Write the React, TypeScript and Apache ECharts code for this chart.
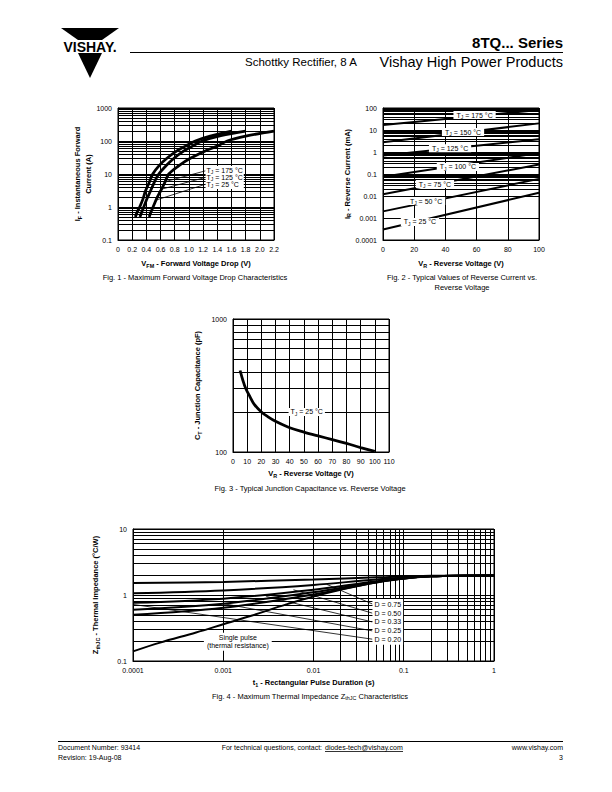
import React, { useEffect, useRef } from 'react';
import * as echarts from 'echarts';

const F = '"Liberation Sans", Arial, Helvetica, sans-serif';

// ---------- Fig. 1 : forward voltage drop (V, A) ----------
const fig1T175 = [[0.245, 0.5], [0.27, 0.7], [0.306, 1], [0.35, 1.7], [0.386, 3], [0.44, 5.5], [0.49, 10], [0.58, 18], [0.69, 30], [0.83, 50], [0.95, 70], [1.09, 100], [1.3, 140], [1.6, 200]];
const fig1T125 = [[0.31, 0.5], [0.335, 0.7], [0.363, 1], [0.41, 1.8], [0.457, 3], [0.51, 5.5], [0.575, 10], [0.68, 18], [0.79, 30], [0.93, 50], [1.05, 70], [1.19, 100], [1.45, 145], [1.8, 200]];
const fig1T25 = [[0.44, 0.5], [0.465, 0.7], [0.495, 1], [0.545, 1.8], [0.598, 3], [0.66, 5.5], [0.716, 10], [0.86, 18], [1.02, 30], [1.23, 50], [1.4, 70], [1.54, 100], [1.8, 140], [2.2, 200]];
const fig1Leaders = [
  [[0.645, 5.7], [1.235, 12.5]],
  [[0.6, 3.4], [1.235, 7.9]],
  [[0.53, 1.6], [1.235, 4.9]],
];
const fig1LabelAt = [1.235, 7.9];
const fig1MinorY = [0.2, 0.3, 0.4, 0.5, 0.6, 0.7, 0.8, 0.9, 2, 3, 4, 5, 6, 7, 8, 9, 20, 30, 40, 50, 60, 70, 80, 90, 200, 300, 400, 500, 600, 700, 800, 900];

// ---------- Fig. 2 : reverse current (V, mA) ----------
const fig2Temps = ['175', '150', '125', '100', '75', '50', '25'];
const fig2Start = [17, 2.8, 0.7, 0.075, 0.012, 0.002, 0.0003];
const fig2End = [82, 20, 3.8, 0.9, 0.27, 0.06, 0.014];
const fig2LabelPos = [[58.7, 48], [51.3, 8.1], [43, 1.5], [48, 0.21], [33.3, 0.035], [27.6, 0.0059], [23.7, 0.00066]];
const fig2MinorY = [
  0.0002, 0.0003, 0.0004, 0.0005, 0.0006, 0.0007, 0.0008, 0.0009,
  0.002, 0.003, 0.004, 0.005, 0.006, 0.007, 0.008, 0.009,
  0.02, 0.03, 0.04, 0.05, 0.06, 0.07, 0.08, 0.09,
  0.2, 0.3, 0.4, 0.5, 0.6, 0.7, 0.8, 0.9,
  2, 3, 4, 5, 6, 7, 8, 9,
  20, 30, 40, 50, 60, 70, 80, 90,
];

// ---------- Fig. 3 : junction capacitance (V, pF) ----------
const fig3Curve = [[5, 410], [7, 345], [9, 300], [12, 260], [15, 228], [20, 200], [25, 183], [30, 170], [40, 152], [50, 141], [60, 132], [70, 124], [80, 116], [90, 108], [100, 101]];
const fig3LabelAt = [52, 200];
const fig3MinorY = [200, 300, 400, 500, 600, 700, 800, 900];

// ---------- Fig. 4 : thermal impedance (s, °C/W) ----------
const fig4Single = [[0.0001, 0.14], [0.0002, 0.19], [0.0005, 0.27], [0.001, 0.36], [0.002, 0.48], [0.005, 0.72], [0.01, 0.95], [0.02, 1.2], [0.05, 1.56], [0.1, 1.78], [0.2, 1.92], [0.5, 1.97], [1, 1.98]];
const fig4D075 = [[0.0001, 1.52], [0.001, 1.58], [0.01, 1.72], [0.05, 1.85], [0.2, 1.95], [1, 1.98]];
const fig4D050 = [[0.0001, 1.06], [0.001, 1.17], [0.01, 1.42], [0.05, 1.72], [0.2, 1.93], [1, 1.98]];
const fig4D033 = [[0.0001, 0.76], [0.001, 0.88], [0.01, 1.2], [0.05, 1.62], [0.2, 1.92], [1, 1.98]];
const fig4D025 = [[0.0001, 0.6], [0.001, 0.74], [0.01, 1.1], [0.05, 1.58], [0.2, 1.92], [1, 1.98]];
const fig4D020 = [[0.0001, 0.5], [0.001, 0.64], [0.01, 1.02], [0.05, 1.55], [0.2, 1.92], [1, 1.98]];
const fig4DLabels = ['0.75', '0.50', '0.33', '0.25', '0.20'];
const fig4Leaders = [
  [[0.014, 1.45], [0.045, 0.73]],
  [[0.006, 1.2], [0.045, 0.53]],
  [[0.003, 0.95], [0.045, 0.39]],
  [[0.001, 0.74], [0.045, 0.286]],
  [[0.0001, 0.72], [0.045, 0.214]],
];
const fig4DLabelAt = [0.045, 0.39];
const fig4SingleLabelAt = [0.00145, 0.195];
const fig4MinorX = [
  0.0002, 0.0003, 0.0004, 0.0005, 0.0006, 0.0007, 0.0008, 0.0009,
  0.002, 0.003, 0.004, 0.005, 0.006, 0.007, 0.008, 0.009,
  0.02, 0.03, 0.04, 0.05, 0.06, 0.07, 0.08, 0.09,
  0.2, 0.3, 0.4, 0.5, 0.6, 0.7, 0.8, 0.9,
];
const fig4MinorY = [0.2, 0.3, 0.4, 0.5, 0.6, 0.7, 0.8, 0.9, 2, 3, 4, 5, 6, 7, 8, 9];

// ---------- helpers ----------
function rich(fs: number, bold = false, lineHeight?: number) {
  const fw = bold ? 'bold' : 'normal';
  const base: any = { fontWeight: fw, fontFamily: F, color: '#000', textBorderWidth: 0, textBorderColor: 'transparent', textShadowBlur: 0 };
  if (lineHeight) base.lineHeight = lineHeight;
  return {
    n: { ...base, fontSize: fs },
    s: { ...base, fontSize: Math.round(fs * 0.72 * 10) / 10, padding: [fs * 0.55, 0, 0, 0] },
  };
}
const fmtNum = (v: number) => String(parseFloat(Number(v).toPrecision(4)));

const TICK_FS = 7;
const NAME_FS = 7.5;

function axisCommon(gridIndex: number) {
  return {
    gridIndex,
    axisLine: { show: true, lineStyle: { color: '#000', width: 1 } },
    axisTick: { show: false },
    axisLabel: { fontSize: TICK_FS, fontFamily: F, color: '#000', margin: 6 },
    splitLine: { show: true, lineStyle: { color: '#000', width: 1 } },
    nameLocation: 'middle',
    nameTextStyle: { rich: rich(NAME_FS, true) },
  };
}

function gridLines(xi: number, anchor: number[], xs: number[], ys: number[]) {
  return {
    type: 'line',
    xAxisIndex: xi,
    yAxisIndex: xi,
    data: [anchor],
    showSymbol: false,
    symbolSize: 0,
    silent: true,
    z: 1,
    lineStyle: { width: 0 },
    markLine: {
      silent: true,
      symbol: ['none', 'none'],
      label: { show: false },
      lineStyle: { color: '#000', width: 1, type: 'solid' },
      emphasis: { disabled: true },
      data: [...xs.map((v) => ({ xAxis: v })), ...ys.map((v) => ({ yAxis: v }))],
    },
  };
}

function curve(xi: number, data: number[][], width: number, smooth: boolean | number = 0.35) {
  return {
    type: 'line',
    xAxisIndex: xi,
    yAxisIndex: xi,
    data,
    smooth,
    showSymbol: false,
    symbol: 'none',
    silent: true,
    z: 3,
    lineStyle: { color: '#000', width },
    itemStyle: { color: '#000' },
  };
}

function leaders(xi: number, segs: number[][][], width = 0.8) {
  return {
    type: 'line',
    xAxisIndex: xi,
    yAxisIndex: xi,
    data: [],
    silent: true,
    z: 4,
    markLine: {
      silent: true,
      symbol: ['none', 'none'],
      label: { show: false },
      lineStyle: { color: '#000', width, type: 'solid' },
      emphasis: { disabled: true },
      data: segs.map((s) => [{ coord: s[0] }, { coord: s[1] }]),
    },
  };
}

function textPoint(xi: number, at: number[], text: string, fs: number, position: any, lineHeight?: number, padding: any = [1, 2]) {
  return {
    type: 'scatter',
    xAxisIndex: xi,
    yAxisIndex: xi,
    symbolSize: 0,
    silent: true,
    z: 6,
    itemStyle: { color: '#000', opacity: 1 },
    data: [at],
    label: {
      show: true,
      position,
      distance: 0,
      formatter: text,
      backgroundColor: '#fff',
      padding,
      lineHeight,
      color: '#000',
      textBorderWidth: 0,
      textBorderColor: 'transparent',
      opacity: 1,
      rich: rich(fs, false, lineHeight),
    },
  };
}

const tj = (t: string) => `{n|T}{s|J}{n| = ${t} °C}`;

function buildOption(): any {
  const grids = [
    { left: 118, top: 108, width: 156, height: 132 },
    { left: 383, top: 108, width: 156, height: 132 },
    { left: 233, top: 319, width: 156, height: 133 },
    { left: 133, top: 529, width: 361, height: 132 },
  ].map((g) => ({ ...g, show: true, borderColor: '#000', borderWidth: 1, backgroundColor: 'transparent', containLabel: false }));

  const xAxis = [
    {
      ...axisCommon(0), type: 'value', min: 0, max: 2.2, interval: 0.2,
      axisLabel: { ...axisCommon(0).axisLabel, formatter: (v: number) => (v === 0 ? '0' : v.toFixed(1)) },
      name: '{n|V}{s|FM}{n| - Forward Voltage Drop (V)}', nameGap: 19,
    },
    {
      ...axisCommon(1), type: 'value', min: 0, max: 100, interval: 20,
      name: '{n|V}{s|R}{n| - Reverse Voltage (V)}', nameGap: 19,
    },
    {
      ...axisCommon(2), type: 'value', min: 0, max: 110, interval: 10,
      name: '{n|V}{s|R}{n| - Reverse Voltage (V)}', nameGap: 17,
    },
    {
      ...axisCommon(3), type: 'log', logBase: 10, min: 0.0001, max: 1,
      axisLabel: { ...axisCommon(3).axisLabel, formatter: fmtNum },
      name: '{n|t}{s|1}{n| - Rectangular Pulse Duration (s)}', nameGap: 17,
    },
  ];
  const yAxis = [
    {
      ...axisCommon(0), type: 'log', logBase: 10, min: 0.1, max: 1000,
      axisLabel: { ...axisCommon(0).axisLabel, formatter: fmtNum },
      name: '{n|I}{s|F}{n| - Instantaneous Forward}\n{n|Current (A)}', nameGap: 22,
      nameTextStyle: { rich: rich(NAME_FS, true, 11) },
    },
    {
      ...axisCommon(1), type: 'log', logBase: 10, min: 0.0001, max: 100,
      axisLabel: { ...axisCommon(1).axisLabel, formatter: fmtNum },
      name: '{n|I}{s|R}{n| - Reverse Current (mA)}', nameGap: 31,
    },
    {
      ...axisCommon(2), type: 'log', logBase: 10, min: 100, max: 1000,
      axisLabel: { ...axisCommon(2).axisLabel, formatter: fmtNum },
      name: '{n|C}{s|T}{n| - Junction Capacitance (pF)}', nameGap: 31,
    },
    {
      ...axisCommon(3), type: 'log', logBase: 10, min: 0.1, max: 10,
      axisLabel: { ...axisCommon(3).axisLabel, formatter: fmtNum },
      name: '{n|Z}{s|thJC}{n| - Thermal Impedance (°C/W)}', nameGap: 33,
    },
  ];

  const series: any[] = [
    // Fig 1
    gridLines(0, [0, 0.1], [], fig1MinorY),
    curve(0, fig1T175, 2.8),
    curve(0, fig1T125, 2.8),
    curve(0, fig1T25, 2.8),
    leaders(0, fig1Leaders, 0.8),
    textPoint(0, fig1LabelAt, [tj('175'), tj('125'), tj('25')].join('\n'), 7, 'right', 7, [1, 1]),
    // Fig 2
    gridLines(1, [0, 0.0001], [], fig2MinorY),
    ...fig2Temps.map((_, i) => curve(1, [[0, fig2Start[i]], [100, fig2End[i]]], 2, false)),
    ...fig2Temps.map((t, i) => textPoint(1, fig2LabelPos[i], tj(t), 7, 'inside', 8, [0, 3])),
    // Fig 3
    gridLines(2, [0, 100], [], fig3MinorY),
    curve(2, fig3Curve, 2.8),
    textPoint(2, fig3LabelAt, tj('25'), 7, 'inside', 8, [0, 2]),
    // Fig 4
    gridLines(3, [0.0001, 0.1], fig4MinorX, fig4MinorY),
    curve(3, fig4Single, 2),
    curve(3, fig4D075, 2),
    curve(3, fig4D050, 2),
    curve(3, fig4D033, 2),
    curve(3, fig4D025, 2),
    curve(3, fig4D020, 2),
    leaders(3, fig4Leaders, 0.8),
    textPoint(3, fig4DLabelAt, fig4DLabels.map((d) => `{n|D = ${d}}`).join('\n'), 7, 'right', 8.75, [1, 2]),
    textPoint(3, fig4SingleLabelAt, '{n|Single pulse}\n{n|(thermal resistance)}', 7, 'inside', 8, [1, 3]),
  ];

  const txt = (x: number, y: number, text: string, fontSize: number, opts: any = {}) => ({
    type: 'text', x, y, silent: true,
    style: { text, fontSize, fontFamily: F, fill: '#000', textAlign: 'left', textVerticalAlign: 'middle', ...opts },
  });
  const richTxt = (x: number, y: number, text: string, fs: number, align = 'center') => ({
    type: 'text', x, y, silent: true,
    style: { text, rich: rich(fs), textAlign: align, textVerticalAlign: 'middle', fontSize: fs, fontFamily: F, fill: '#000' },
  });

  const graphic: any[] = [
    // logo
    { type: 'polygon', silent: true, shape: { points: [[61, 28], [119, 28], [102, 40], [78, 40]] }, style: { fill: '#000' } },
    txt(90, 46.5, 'VISHAY.', 14, { fontWeight: 'bold', textAlign: 'center' }),
    { type: 'polygon', silent: true, shape: { points: [[78, 53], [102, 53], [90, 78]] }, style: { fill: '#000' } },
    // header
    { type: 'line', silent: true, shape: { x1: 130, y1: 52.5, x2: 563, y2: 52.5 }, style: { stroke: '#000', lineWidth: 1 } },
    txt(563, 42, '8TQ... Series', 15, { fontWeight: 'bold', textAlign: 'right' }),
    txt(245, 62, 'Schottky Rectifier, 8 A', 11.5),
    txt(563, 62, 'Vishay High Power Products', 14.5, { textAlign: 'right' }),
    // captions
    txt(195, 277, 'Fig. 1 - Maximum Forward Voltage Drop Characteristics', 7.5, { textAlign: 'center' }),
    txt(462, 277, 'Fig. 2 - Typical Values of Reverse Current vs.', 7.5, { textAlign: 'center' }),
    txt(462, 287, 'Reverse Voltage', 7.5, { textAlign: 'center' }),
    txt(310, 488, 'Fig. 3 - Typical Junction Capacitance vs. Reverse Voltage', 7.5, { textAlign: 'center' }),
    richTxt(310, 696, '{n|Fig. 4 - Maximum Thermal Impedance Z}{s|thJC}{n| Characteristics}', 7.5),
    // footer
    { type: 'line', silent: true, shape: { x1: 58, y1: 741.5, x2: 563, y2: 741.5 }, style: { stroke: '#000', lineWidth: 1 } },
    txt(58, 747, 'Document Number: 93414', 7),
    txt(58, 757, 'Revision: 19-Aug-08', 7),
    txt(324, 747, 'For technical questions, contact: ', 7, { textAlign: 'right' }),
    txt(325, 747, 'diodes-tech@vishay.com', 7),
    { type: 'line', silent: true, shape: { x1: 325, y1: 751.5, x2: 403, y2: 751.5 }, style: { stroke: '#000', lineWidth: 0.8 } },
    txt(563, 747, 'www.vishay.com', 7, { textAlign: 'right' }),
    txt(563, 757, '3', 7, { textAlign: 'right' }),
  ];

  return {
    animation: false,
    backgroundColor: '#fff',
    textStyle: { fontFamily: F },
    grid: grids,
    xAxis,
    yAxis,
    series,
    graphic,
  };
}

export default function App() {
  const ref = useRef<HTMLDivElement>(null);
  useEffect(() => {
    const chart = echarts.init(ref.current!, null, { renderer: 'svg', width: 612, height: 792 });
    chart.setOption(buildOption());
    return () => chart.dispose();
  }, []);
  return <div ref={ref} style={{ position: 'absolute', left: 0, top: 0, width: 612, height: 792, background: '#fff' }} />;
}
